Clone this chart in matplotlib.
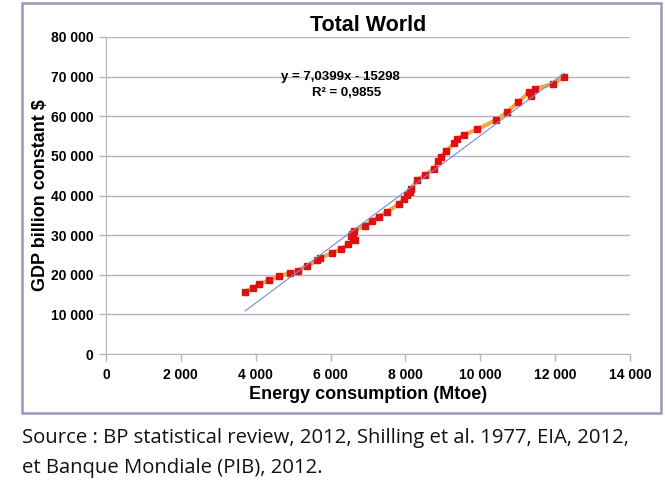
import numpy as np
import matplotlib.pyplot as plt
from matplotlib.patches import Rectangle
from matplotlib.ticker import FuncFormatter

# World energy consumption (Mtoe) vs GDP (billion constant $)
energy = [3720, 3934, 4093, 4350, 4634, 4915, 5119, 5377, 5650, 5730,
          6048, 6279, 6454, 6666, 6600, 6550, 6570, 6613, 6915, 7117,
          7290, 7515, 7817, 7960, 8046, 8109, 8152, 8320, 8530, 8753,
          8880, 8940, 9095, 9310, 9390, 9575, 9910, 10416, 10710, 11008,
          11300, 11353, 11450, 11930, 12240]
gdp = [15700, 16700, 17600, 18600, 19700, 20400, 21000, 22300, 23600, 24200,
       25600, 26400, 27700, 28800, 29400, 29800, 30400, 31000, 32400, 33600,
       34700, 35900, 37800, 39100, 40100, 40900, 41700, 43900, 45200, 46700,
       48600, 49600, 51300, 53200, 54200, 55300, 56700, 59000, 61000, 63500,
       66000, 65200, 66900, 68100, 70000]

slope = 7.0399
intercept = -15298
r2_label = "R² = 0,9855"
eq_label = "y = 7,0399x - 15298"

xticks = list(range(0, 14001, 2000))
yticks = list(range(0, 80001, 10000))

plt.rcParams['font.family'] = ['Liberation Sans', 'DejaVu Sans']

fig = plt.figure(figsize=(6.65, 4.93), dpi=100)
ax = fig.add_axes([106 / 665, 1 - 354 / 493, (630 - 106) / 665, (354 - 37) / 493])

# chart frame
fig.patches.append(Rectangle((22 / 665, 1 - 413 / 493), (661 - 22) / 665, (413 - 3) / 493,
                             transform=fig.transFigure, fill=False,
                             edgecolor='#9898bc', linewidth=1.8))

grid_col = '#b4b4c8'
ax.set_axisbelow(True)
ax.grid(axis='y', color=grid_col, linewidth=1)

ax.plot(energy, gdp, color='#f0a848', linewidth=3, zorder=3)
ax.plot(energy, gdp, linestyle='none', marker='s', markersize=4,
        color='#e01010', zorder=4)

fit_x = np.array([energy[0], energy[-1]])
ax.plot(fit_x, slope * fit_x + intercept, color='#6f8fd0', linewidth=0.8, zorder=5)

ax.text(0.447, 0.875, eq_label, ha='center', va='center', fontsize=9.5,
        fontweight='bold', transform=ax.transAxes)
ax.text(0.46, 0.822, r2_label, ha='center', va='center', fontsize=9.5,
        fontweight='bold', transform=ax.transAxes)

ax.set_xlim(0, 14000)
ax.set_ylim(0, 80000)
ax.set_xticks(xticks)
ax.set_yticks(yticks)
fmt = FuncFormatter(lambda v, p: f"{int(v):,}".replace(",", " "))
ax.xaxis.set_major_formatter(fmt)
ax.yaxis.set_major_formatter(fmt)
for lab in ax.get_xticklabels() + ax.get_yticklabels():
    lab.set_fontweight('bold')
ax.tick_params(axis='both', labelsize=10, color=grid_col, length=5, width=1)
ax.tick_params(axis='x', pad=5)
ax.tick_params(axis='y', pad=4)

for s in ['top', 'right']:
    ax.spines[s].set_visible(False)
for s in ['left', 'bottom']:
    ax.spines[s].set_color(grid_col)

ax.set_xlabel('Energy consumption (Mtoe)', fontsize=13, fontweight='bold', labelpad=3)
ax.set_ylabel('GDP billion constant $', fontsize=13, fontweight='bold', labelpad=1)
ax.set_title('Total World', fontsize=15.5, fontweight='bold', pad=4)

fig.text(22 / 665, 1 - 438 / 493, "Source : BP statistical review, 2012, Shilling et al. 1977, EIA, 2012,",
         fontsize=14.6, va='center', ha='left', family=['Open Sans', 'DejaVu Sans'], color='#111111')
fig.text(22 / 665, 1 - 468 / 493, "et Banque Mondiale (PIB), 2012.",
         fontsize=14.6, va='center', ha='left', family=['Open Sans', 'DejaVu Sans'], color='#111111')

fig.savefig('out.png', dpi=100)
